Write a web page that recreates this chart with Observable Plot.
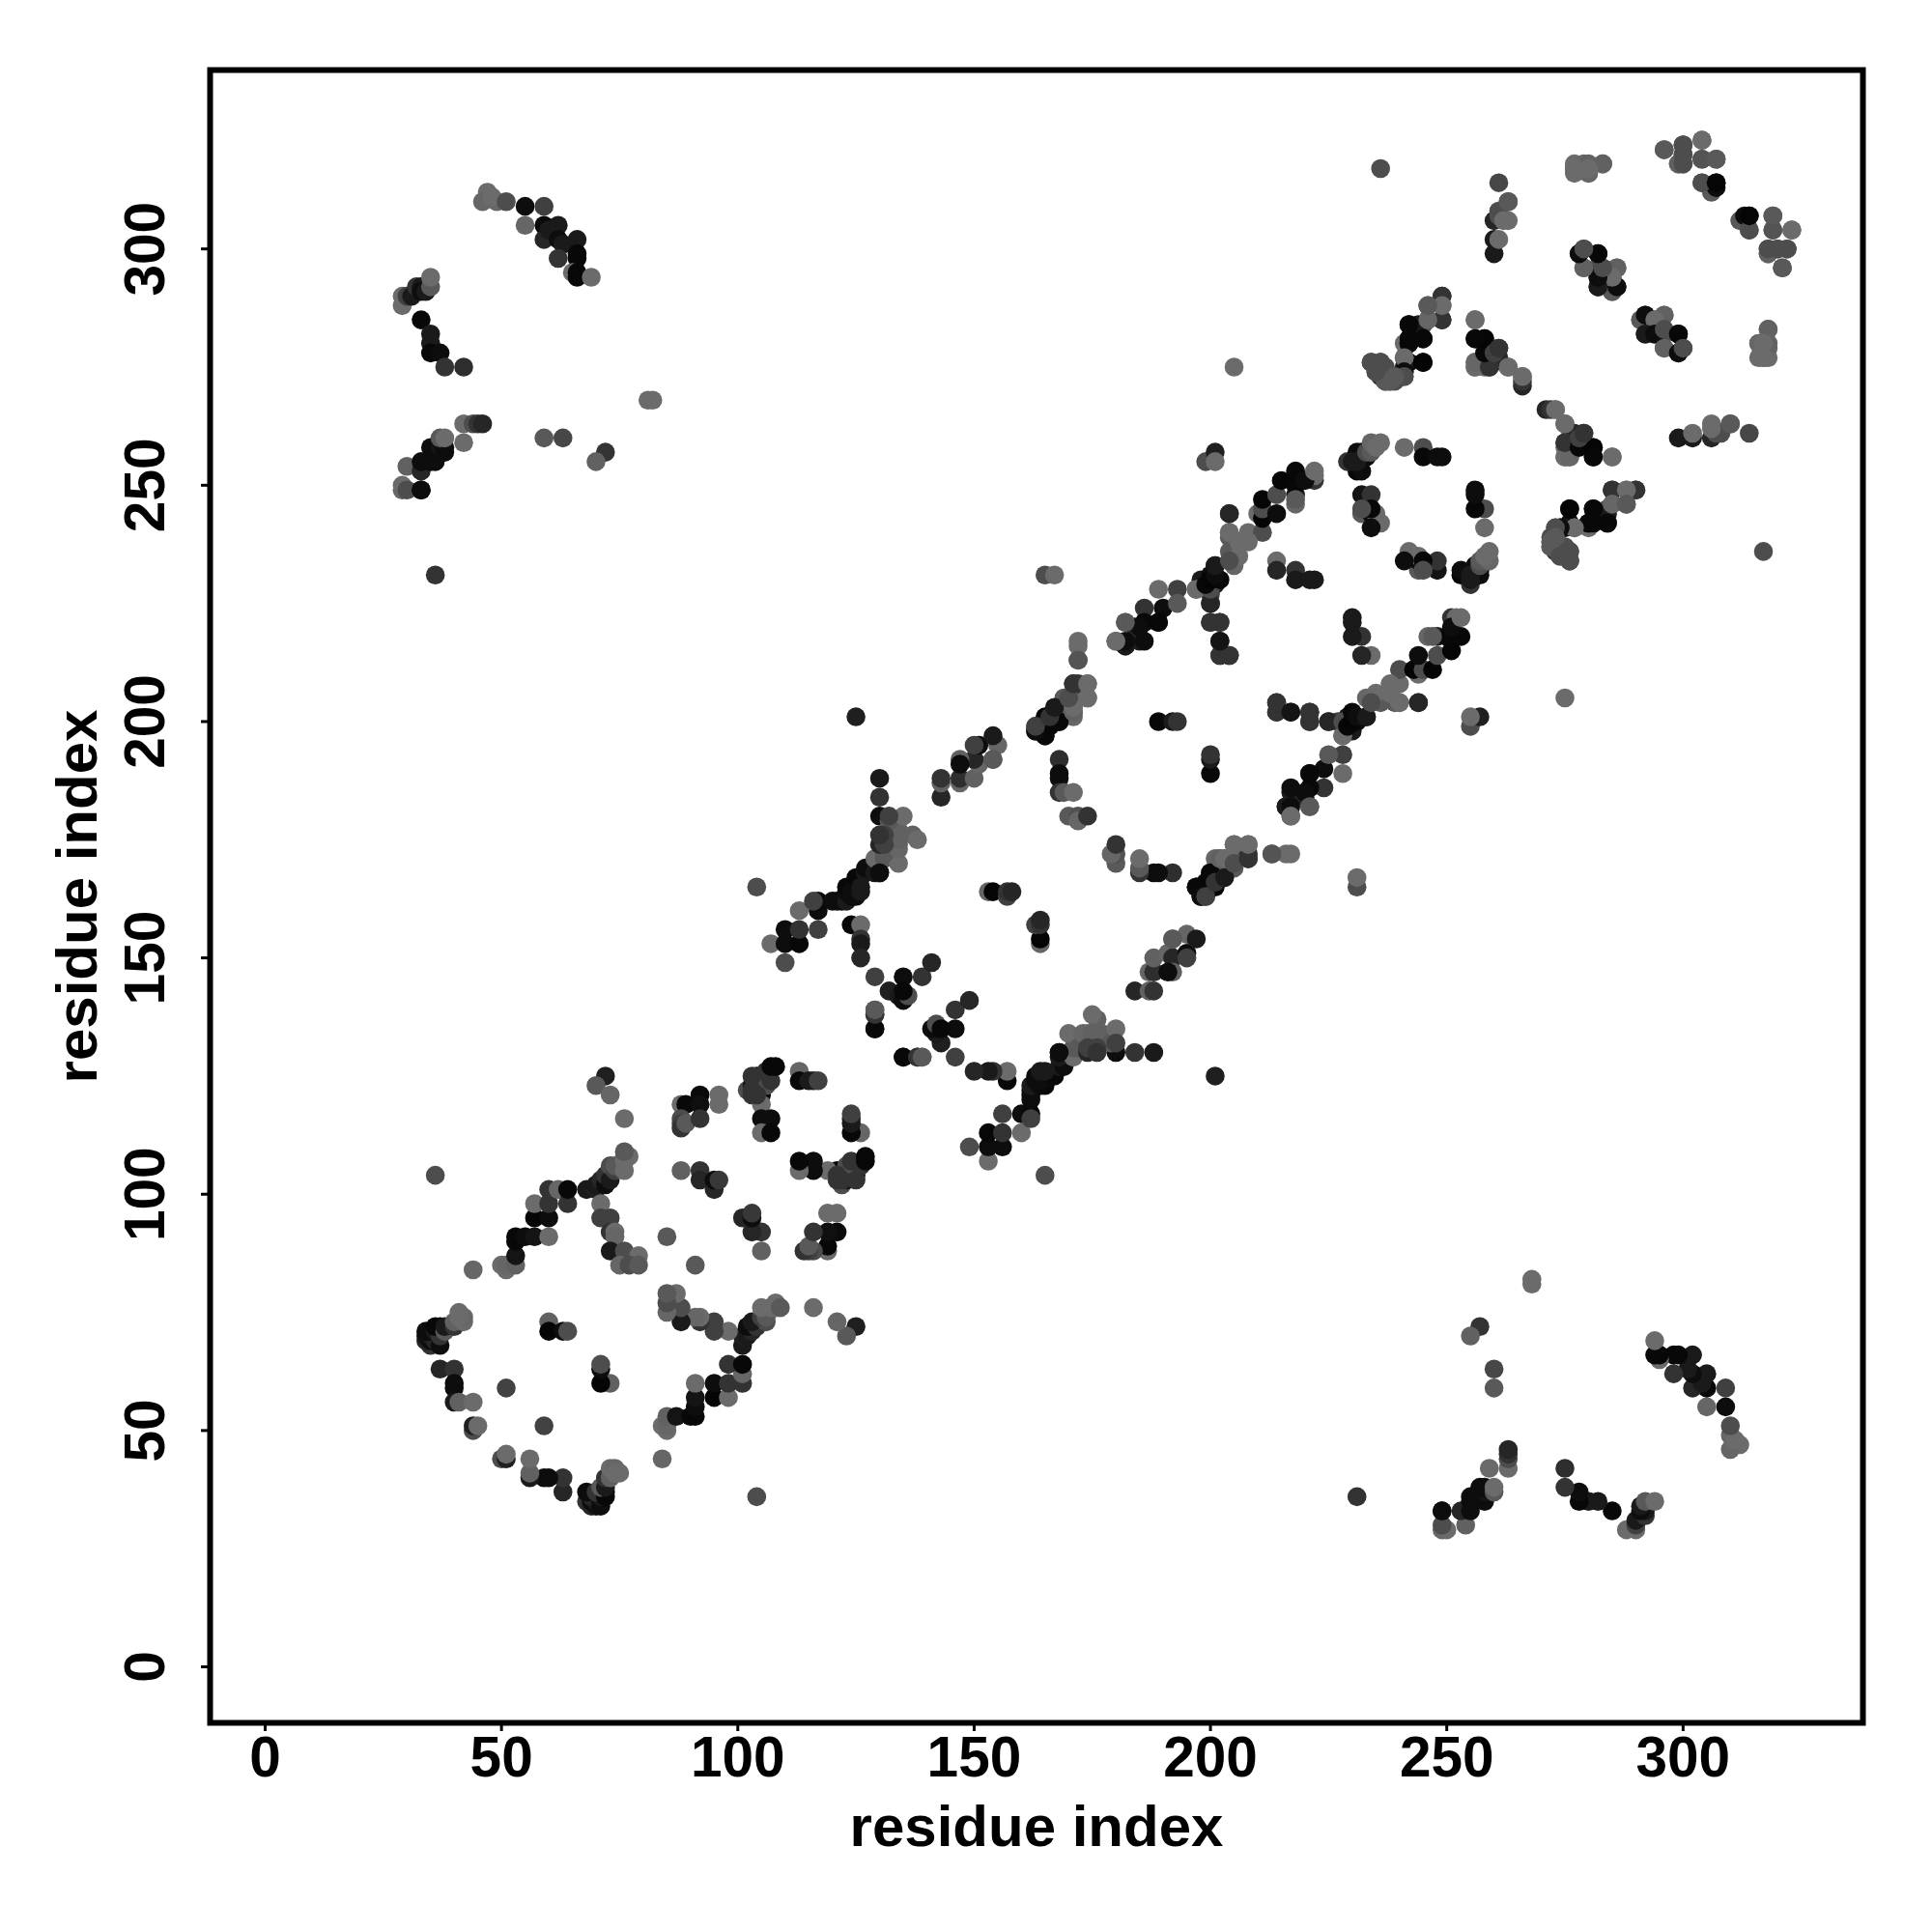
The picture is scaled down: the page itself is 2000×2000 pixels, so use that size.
<!DOCTYPE html>
<html>
<head>
<meta charset="utf-8">
<script src="https://cdn.jsdelivr.net/npm/d3@7"></script>
<script src="https://cdn.jsdelivr.net/npm/@observablehq/plot@0.6"></script>
<style>html,body{margin:0;padding:0;background:#fff}</style>
</head>
<body>
<div id="chart"></div>
<script>
// Each contact: [residue a, residue b, grey shade (0 = black, 1 = white)]. The map is symmetric.
const farTopLeft = [
[47,312,.42],[46,310,.4],[49,310,.4],[48,311,.42],[51,310,.3],[55,309,.05],[55,305,.4],[59,309,.25],[59,305,.03],[59,302,.15],[60,304,.1],[62,305,.1],[62,302,.05],[63,301,.1],[66,302,.1],[62,298,.2],[66,299,.03],[66,298,.03],[65,295,.42],[66,295,.03],[66,294,.03],[69,294,.42],
[29,288,.42],[29,290,.42],[30,290,.25],[31,290,.1],[32,292,.2],[33,292,.1],[33,291,.05],[34,291,.1],[35,292,.35],[35,294,.42],[33,285,.03],[35,282,.1],[35,280,.1],[35,278,.03],[37,278,.05],[38,275,.2],[42,275,.18],
[81,268,.42],[82,268,.42],[42,263,.42],[44,263,.3],[45,263,.2],[46,263,.15],[42,259,.42],
[29,249,.4],[29,250,.42],[30,249,.3],[33,249,.05],[30,254,.38],[33,253,.15],[33,255,.05],[35,255,.05],[36,255,.05],[35,258,.05],[37,258,.08],[38,257,.05],[38,258,.05],[37,260,.35],[38,260,.42],
[59,260,.35],[63,260,.28],[72,257,.2],[70,255,.38],[36,231,.2]
];
const farOther = [
[33,249,.05],[36,104,.3],[125,201,.12],[104,165,.3],[165,231,.3],[167,231,.42],[199,255,.3],[201,257,.12],[201,255,.42],[205,275,.42],[236,317,.3]
];
const ringOne = [
[51,59,.26],[60,73,.38],[60,71,.02],[63,71,.05],[64,71,.3],
[37,63,.15],[40,63,.2],[40,60,.05],[40,59,.05],[40,56,.1],[41,56,.38],[44,56,.42],[44,50,.3],[44,51,.12],[45,51,.42],
[35,68,.2],[34,69,.15],[34,70,.08],[35,69,.05],[35,70,.1],[36,69,.15],[37,68,.05],[34,71,.05],[35,71,.05],[36,71,.1],[37,70,.2],[36,72,.03],[37,72,.03],[38,71,.35],[38,72,.1],[40,72,.2],[40,73,.38],[42,73,.42],[42,74,.4],[41,74,.42],[41,75,.42],
[44,84,.4],[50,85,.42],[51,84,.42],[51,85,.4],[53,85,.38],[53,87,.08],[53,90,.03],[53,91,.03],[55,91,.05],[57,91,.08],[60,91,.42],[57,95,.02],[60,95,.05],[57,98,.42],[60,98,.2],[60,101,.2],[62,101,.4],[64,98,.2],[64,101,.03],
[68,101,.1],[70,101,.12],[70,102,.1],[71,103,.15],[72,102,.05],[72,104,.2],[73,103,.1],[73,106,.3],[74,105,.25],[74,106,.35],[76,105,.42],[76,107,.42],[76,108,.42],[77,108,.42],
[71,98,.42],[71,95,.25],[73,95,.25],[73,92,.2],[74,92,.42],[74,91,.4],[73,88,.1],[76,88,.3],[79,87,.42],[75,85,.4],[77,85,.3],[79,85,.35],[85,91,.35],[72,125,.12],[70,123,.35],[73,121,.4],[76,116,.42],
[76,109,.35]
];
const ringTwo = [
[88,119,.42],[89,119,.03],[92,121,.04],[92,119,.06],[96,121,.42],[96,119,.42],[88,116,.3],[88,115,.25],[88,114,.2],[89,115,.35],[92,116,.2],
[102,122,.3],[103,121,.2],[103,123,.1],[104,125,.05],[105,121,.02],[105,123,.05],[105,124,.1],[106,123,.3],[107,124,.2],[106,126,.2],[108,127,.03],[105,119,.42],[105,116,.05],[107,116,.05],[105,113,.42],[107,113,.03],
[113,126,.4],[113,124,.03],[116,124,.1],[115,124,.1],[117,124,.25],
[88,105,.38],[92,105,.2],[92,103,.15],[95,101,.15],[95,103,.05],[96,103,.22],[103,122,.2],[104,121,.2],[107,127,.03],[103,125,.2]
];
const bandThree = [
[107,153,.42],[110,149,.3],[110,153,.05],[110,156,.05],[113,153,.03],[113,156,.2],[113,160,.42],[117,156,.25],[117,160,.05],[117,162,.03],[120,162,.05],[121,162,.05],[122,162,.05],[123,162,.1],[123,164,.05],[123,165,.03],[124,163,.05],[125,163,.05],[124,164,.05],[125,166,.05],[126,164,.1],[125,167,.03],[127,168,.1],[127,169,.05],[129,168,.1],[130,168,.05],
[129,171,.42],[131,171,.35],[134,170,.42],[131,172,.35],[130,174,.15],[134,174,.42],[134,173,.4],[134,175,.38],[132,177,.3],[134,176,.38],[134,177,.38],[137,176,.38],[138,175,.42],[130,180,.05],[132,179,.35],[135,180,.42],[130,184,.2],[130,188,.1],
[124,157,.03],[126,157,.42],[126,154,.2],[126,153,.1],[126,150,.15],
[129,146,.25],[135,146,.05],[139,146,.2],[141,149,.15],[132,143,.12],[134,142,.1],[135,141,.05],[136,142,.3],[129,139,.38],[129,138,.2],[129,135,.03],[135,143,.03],[135,129,.03],[138,129,.2],[139,129,.35],
[153,164,.4],[154,164,.02],[157,163,.25],[157,164,.2],[158,164,.15],
[116,162,.25],[126,165,.1],[130,168,.05],[131,174,.25],[131,176,.25],[132,180,.25],[130,176,.2]
];
const bandFour = [
[143,184,.15],[143,187,.38],[143,188,.2],[147,187,.4],[147,188,.18],[150,188,.38],[151,191,.4],[150,192,.15],[147,192,.38],[147,191,.05],[154,192,.35],[155,195,.4],[151,195,.05],[154,197,.1],[150,195,.25],
[163,199,.25],[165,201,.02],[165,197,.03],[163,198,.05],[166,201,.05],[168,200,.05],[167,200,.1],[164,199,.05],[166,199,.03],
[169,205,.35],[169,202,.35],[171,201,.4],[171,202,.38],[171,203,.42],[170,205,.4],[172,205,.42],[171,208,.2],[172,208,.2],[174,208,.42],[174,205,.42],[172,213,.32],[172,216,.42],
[168,192,.18],[168,189,.05],[168,188,.05],[168,185,.2],[169,185,.35],[171,185,.42],
[170,180,.35],[172,180,.32],[172,179,.4],[174,180,.2],[189,200,.03],[192,200,.1],[193,200,.2],
[180,217,.42],[182,221,.4],[182,216,.05],[185,217,.12],[184,220,.15],[186,224,.2],[186,221,.03],[189,228,.42],[189,221,.05],[190,224,.05],[193,228,.25],[193,225,.35],[197,228,.3],[198,230,.1],[200,227,.25],[200,231,.05],[201,229,.1],[201,233,.03],[199,229,.1]
];
const ringFive = [
[204,236,.35],[205,233,.4],[204,239,.35],[204,240,.42],[204,244,.18],[206,235,.42],[206,238,.42],[208,240,.42],[210,244,.42],[211,240,.3],[211,243,.02],[211,245,.3],[211,247,.02],[214,244,.05],[214,248,.3],[215,251,.02],[218,246,.4],[218,248,.1],[218,250,.03],[218,253,.03],[222,251,.2],[222,252,.42],
[200,225,.18],[200,221,.2],[202,221,.2],[202,217,.08],[202,214,.18],[204,214,.25],
[214,234,.42],[214,232,.15],[218,232,.2],[218,230,.1],[221,230,.1],[222,230,.1],
[232,248,.08],[234,248,.2],[232,244,.35],[234,244,.05],[235,244,.42],[236,242,.42],[234,241,.05],[234,245,.03],[232,245,.3],
[231,253,.02],[229,255,.2],[233,256,.05],[231,257,.05],[232,257,.05],[232,253,.05],[232,256,.05],[230,255,.1],[231,255,.1],[233,257,.3],[234,257,.35],[234,259,.4],[235,258,.42],[236,259,.42],
[241,258,.42],[245,258,.3],[245,256,.03],[248,256,.05],[249,256,.05]
];
const diagonalSix = [
[192,154,.35],
[197,165,.03],[198,163,.05],[199,163,.25],[200,168,.03],[201,166,.2],[203,167,.1],[202,171,.38],[203,171,.42],[205,170,.3],[205,174,.42],[208,171,.2],[208,174,.42],[213,172,.33],[217,172,.42],
[214,202,.2],[214,204,.2],[217,202,.08],[221,200,.2],[221,202,.2],[225,200,.15],
[197,228,.42],[228,200,.3],[229,199,.03],[230,200,.02],[230,202,.03],[231,201,.05],[233,201,.1],
[217,186,.05],[216,182,.1],[217,182,.05],[217,180,.42],[220,185,.05],[221,182,.35],[221,189,.03],
[204,234,.3],[204,240,.42],[204,244,.15],[208,238,.42],[218,247,.35],[220,251,.05],[222,253,.42]
];
const ringSeven = [
[249,290,.2],[249,288,.42],[246,288,.38],[249,285,.2],[246,285,.42],[245,284,.3],[242,284,.03],[245,281,.03],[242,281,.03],[241,280,.42],[242,280,.05],[242,276,.03],[245,276,.03],[241,277,.4],[241,273,.38],[241,275,.1],[238,272,.42],[236,276,.2],[234,276,.2],[236,273,.2],[239,273,.35],[237,275,.3],
[256,285,.42],[256,281,.05],[258,281,.03],[256,276,.42],[258,275,.42],[259,275,.2],[259,277,.15],[258,277,.1],[260,276,.2],[260,277,.1],[260,278,.25],[259,279,.25],[261,279,.2],[263,275,.42],[266,271,.15],[266,273,.42],
[261,277,.15],[256,275,.42],
[244,284,.1],[241,274,.05],[239,272,.3],[237,272,.35],[235,274,.4],
[260,299,.1],[260,302,.1],[261,302,.42],[260,306,.15],[261,308,.3],[263,306,.42],[263,310,.38],[261,314,.28],
[261,307,.3],[262,306,.42],[310,263,.35]
];
const ringEight = [
[277,317,.4],[277,318,.42],[279,318,.4],[280,316,.4],[278,317,.42],[283,318,.42],
[296,321,.3],[300,322,.28],[300,320,.3],[299,318,.42],[300,318,.28],[304,323,.42],[304,319,.33],[307,319,.35],[304,314,.33],[306,312,.35],[307,314,.02],[307,313,.05],
[318,299,.38],[318,300,.3],[320,300,.3],[322,300,.3],[321,296,.35],[319,304,.33],[319,307,.35],[323,304,.42],[314,304,.3],[314,307,.02],
[278,299,.1],[279,300,.35],[282,299,.03],[279,296,.35],[282,296,.3],[286,296,.42],[282,294,.05],[285,294,.42],[282,292,.1],[285,291,.35],[286,292,.05],
[291,285,.35],[292,286,.05],[296,286,.38],[294,285,.42],[292,282,.1],[294,282,.05],[296,283,.3],[299,282,.03],[296,279,.38],[299,278,.05],[300,279,.3],
[318,283,.38],[316,280,.4],[318,280,.38],[317,280,.42],[316,277,.42],[317,277,.42],
[285,249,.2],[290,249,.2],[288,249,.42],[285,246,.4],[288,246,.35],[281,245,.03],[276,245,.02],[284,242,.03],[281,242,.03],[280,242,.03],[277,241,.42],[274,241,.05],[273,241,.3],[273,239,.35],[272,238,.35],[272,237,.35],[276,236,.3],[276,234,.3],[274,235,.3],
[275,256,.42],[276,256,.4],[275,259,.2],[278,258,.03],[281,258,.02],[281,256,.03],[285,256,.42],[278,260,.25],[279,261,.2],[275,263,.42],[272,266,.2],[273,266,.42]
];

const tickValues = [0, 50, 100, 150, 200, 250, 300];
const axisTitle = "residue index";

const pairs = [...farTopLeft, ...farOther, ...ringOne, ...ringTwo, ...bandThree, ...bandFour, ...ringFive, ...diagonalSix, ...ringSeven, ...ringEight];
const contacts = pairs.flatMap(([a, b, shade]) => [{x: a, y: b, shade}, {x: b, y: a, shade}]);

const font = {fontFamily: "'Liberation Sans', Arial, sans-serif"};

const chart = Plot.plot({
  width: 2000,
  height: 2000,
  marginLeft: 217,
  marginRight: 72,
  marginTop: 72,
  marginBottom: 217,
  style: {...font, background: "#fff", color: "#000"},
  x: {domain: [-11.65, 338.05]},
  y: {domain: [-11.85, 337.85]},
  color: {type: "linear", domain: [0, 1], range: ["#000", "#fff"]},
  marks: [
    Plot.dot(contacts, {x: "x", y: "y", r: 9.8, fill: "shade", stroke: "none"}),
    Plot.frame({stroke: "#000", strokeWidth: 6}),
    Plot.axisX({
      ticks: tickValues, tickSize: 9, strokeWidth: 3, tickPadding: 5,
      fontSize: 58.5, fontWeight: "bold", tickFormat: d => String(d), label: null
    }),
    Plot.axisY({
      ticks: tickValues, tickSize: 9, strokeWidth: 3, tickPadding: 39, tickRotate: -90,
      fontSize: 58.5, fontWeight: "bold", tickFormat: d => String(d), label: null
    }),
    Plot.text([axisTitle], {text: d => d, frameAnchor: "bottom", lineAnchor: "bottom", dy: 127, fontSize: 60, fontWeight: "bold", fill: "#000"}),
    Plot.text([axisTitle], {text: d => d, frameAnchor: "left", textAnchor: "middle", lineAnchor: "bottom", rotate: -90, dx: -118, fontSize: 60, fontWeight: "bold", fill: "#000"})
  ]
});
document.getElementById("chart").appendChild(chart);
</script>
</body>
</html>
